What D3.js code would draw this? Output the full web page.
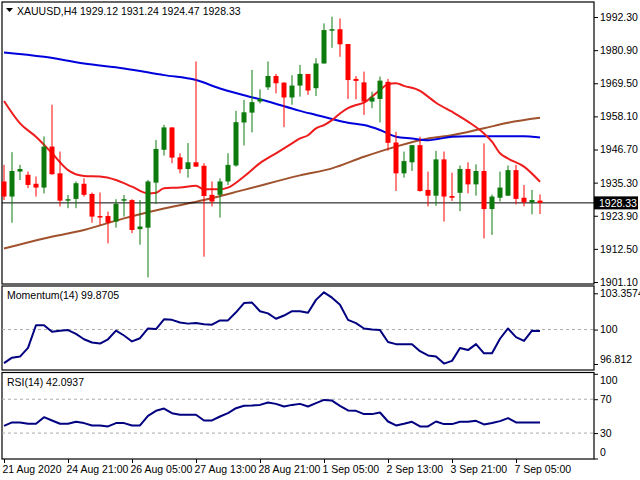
<!DOCTYPE html>
<html><head><meta charset="utf-8">
<script src="https://cdn.jsdelivr.net/npm/d3@7"></script>
<style>body{margin:0;background:#fff}svg{display:block;font-family:"Liberation Sans",sans-serif}</style>
</head><body><svg id="c" width="640" height="480"></svg>
<script>
const opens=[1935.7,1930.5,1939.1,1938.0,1934.9,1933.6,1947.7,1938.5,1929.3,1929.7,1934.9,1931.4,1923.8,1923.8,1921.9,1929.3,1929.3,1919.3,1919.8,1935.3,1946.6,1954.3,1944.0,1940.0,1942.3,1941.1,1931.1,1931.1,1935.7,1941.2,1956.0,1959.4,1963.2,1968.1,1972.0,1969.7,1964.6,1968.7,1972.7,1967.8,1976.3,1987.8,1988.1,1983.0,1971.0,1969.8,1963.2,1964.1,1970.0,1949.1,1938.5,1942.3,1948.2,1932.8,1930.8,1943.3,1930.7,1931.8,1940.0,1934.7,1939.3,1926.2,1930.1,1930.8,1939.6,1930.1,1928.5,1929.12];
const highs=[1941.4,1945.8,1941.4,1939.1,1937.4,1951.2,1962.1,1946.0,1931.1,1935.7,1936.8,1931.9,1931.9,1925.3,1929.6,1931.1,1929.6,1929.3,1936.2,1950.0,1955.2,1954.3,1945.4,1948.9,1977.0,1942.0,1935.7,1936.8,1945.4,1960.0,1963.8,1974.1,1967.4,1977.0,1972.7,1969.9,1972.3,1975.8,1972.7,1978.1,1990.1,1992.4,1991.8,1983.0,1972.0,1973.5,1966.6,1971.8,1971.0,1952.8,1946.0,1948.2,1951.1,1939.1,1946.2,1946.0,1938.7,1941.2,1942.3,1941.6,1948.8,1931.2,1939.1,1941.2,1941.4,1934.5,1932.8,1931.24];
const lows=[1929.3,1921.5,1936.2,1933.4,1930.5,1931.6,1938.0,1927.1,1926.5,1926.5,1930.5,1921.5,1920.7,1914.4,1919.8,1923.6,1917.9,1913.9,1902.7,1928.0,1944.6,1942.0,1938.5,1937.0,1940.8,1909.8,1927.1,1923.3,1934.5,1940.8,1948.1,1952.6,1962.6,1967.2,1966.0,1954.4,1962.1,1964.9,1965.5,1965.1,1976.3,1981.7,1978.6,1964.1,1964.0,1958.6,1960.9,1956.0,1946.3,1932.4,1937.0,1939.3,1932.2,1927.1,1927.3,1921.9,1929.0,1925.5,1931.6,1930.8,1916.1,1917.3,1928.8,1930.7,1927.8,1927.1,1924.4,1924.47];
const closes=[1930.5,1939.3,1940.0,1934.5,1933.6,1947.7,1938.2,1929.1,1929.6,1935.1,1931.1,1923.6,1923.3,1921.5,1928.0,1929.6,1919.0,1920.2,1935.7,1946.9,1954.3,1943.9,1939.9,1942.3,1940.8,1930.7,1928.8,1935.7,1941.4,1956.1,1959.5,1963.0,1964.1,1972.0,1969.5,1964.6,1968.7,1972.7,1967.0,1976.3,1987.8,1988.1,1982.9,1970.6,1970.3,1963.2,1964.6,1970.4,1949.0,1938.5,1942.7,1948.2,1932.4,1930.8,1943.3,1930.5,1930.1,1940.0,1934.7,1939.3,1926.2,1930.5,1933.6,1939.6,1929.7,1928.5,1929.3,1928.33];
const maFastIdx=[0,2,4,6,8,10,12,14,16,18,19,20,22,24,25,27,28,30,32,34,36,37,38,39,40,41,42,43,44,45,46,47,48,49,50,52,53,54,56,58,60,61,62,63,65,67];
const maFast=[1963.4,1955.7,1951.1,1945.4,1939.6,1937.6,1937.4,1936.2,1933.9,1931.6,1931.8,1933.4,1933.6,1934.2,1933.0,1933.0,1933.6,1937.4,1942.0,1945.4,1948.8,1950.5,1951.6,1954.0,1955.1,1956.8,1959.1,1960.9,1962.0,1962.8,1964.9,1967.2,1969.2,1969.5,1968.6,1966.9,1964.9,1962.8,1959.7,1956.3,1952.2,1949.4,1945.4,1943.6,1940.8,1935.6];
const maMidIdx=[0,5,10,15,20,24,27,30,33,37,39,41,43,45,47,49,51,53,54,56,58,60,62,65,66,67];
const maMid=[1980.1,1978.6,1976.3,1974.6,1972.3,1970.6,1967.7,1965.4,1963.2,1960.0,1958.6,1957.2,1955.9,1955.1,1953.4,1951.1,1950.5,1949.9,1950.2,1951.1,1951.3,1951.3,1951.3,1951.3,1951.1,1950.8];
const maSlowIdx=[0,5,10,15,20,25,30,37,41,45,49,53,56,60,63,67];
const maSlow=[1912.6,1916.1,1919.0,1923.0,1926.4,1929.3,1932.8,1937.8,1940.2,1944.2,1947.7,1950.5,1951.6,1954.0,1955.9,1957.6];
const momentum=[96.9,97.4,97.5,98.3,100.4,100.4,99.8,99.9,99.95,99.6,99.1,98.8,98.7,99.1,99.9,99.45,98.9,99.2,100.1,100.05,100.95,100.9,100.65,100.55,100.6,100.5,100.45,100.85,100.85,101.6,102.45,102.5,101.7,101.5,101.0,101.3,101.7,101.7,101.55,102.75,103.45,102.95,102.3,100.9,100.6,100.1,100.0,99.95,98.85,98.65,98.65,98.65,98.0,97.6,97.5,96.85,97.1,98.3,98.1,98.65,97.8,97.8,99.15,100.1,99.3,98.95,99.9,99.87];
const rsi=[38.6,42.6,42.6,41.0,41.0,48.8,44.9,41.0,41.0,43.3,41.8,39.0,39.0,37.9,41.8,41.8,39.0,39.0,50.4,56.3,59.0,53.5,51.6,51.6,51.6,44.9,44.9,49.6,53.5,59.4,62.2,62.6,63.3,66.1,64.5,61.4,63.3,64.5,61.4,65.3,69.2,68.4,62.2,56.7,56.3,52.4,52.4,54.3,43.7,39.0,41.0,43.3,37.9,37.9,43.7,40.6,40.6,43.3,43.3,44.5,40.2,41.8,44.1,47.7,42.6,42.6,42.6,42.6];
const priceTicks=[1992.30,1980.90,1969.50,1958.10,1946.70,1935.30,1923.90,1912.50,1901.10];
const momTicks=[103.3574,100,96.812];
const rsiTicks=[100,70,30,0];
const dateIdx=[0,8,16,24,32,40,48,56,64];
const dateLabels=["21 Aug 2020","24 Aug 21:00","26 Aug 05:00","27 Aug 13:00","28 Aug 21:00","1 Sep 05:00","2 Sep 13:00","3 Sep 21:00","7 Sep 05:00"];
const lastPrice=1928.33;
const title="XAUUSD,H4  1929.12 1931.24 1924.47 1928.33";

const svg=d3.select("#c");
const L=2,R=594;
const x=d3.scaleLinear().domain([0,67]).range([4,540]);
const y=d3.scaleLinear().domain([1901.1,1992.3]).range([282,17]);
const ym=d3.scaleLinear().domain([96.812,103.3574]).range([364,293.3]);
const yr=d3.scaleLinear().domain([0,100]).range([458.5,373.8]);
const panels=[[2,284],[286,370],[372.5,459]];
panels.forEach(p=>svg.append("rect").attr("x",L).attr("y",p[0]).attr("width",R-L).attr("height",p[1]-p[0]).attr("fill","none").attr("stroke","#000").attr("stroke-width",1.2));

const fs="10.5px";
function rAxis(scale,ticks,fmt,cls){
  const g=svg.append("g").attr("transform",`translate(${R},0)`).call(d3.axisRight(scale).tickValues(ticks).tickFormat(fmt).tickSize(4).tickPadding(2));
  g.select(".domain").remove();
  g.selectAll("text").attr("font-size",fs).attr("font-family","Liberation Sans").attr("fill","#000");
  return g;
}
rAxis(y,priceTicks,d3.format(".2f"));
const mg=rAxis(ym,momTicks,d=>String(d));
mg.selectAll("text").filter(d=>d===96.812).attr("dy","-0.1em");
const rg=rAxis(yr,rsiTicks,d3.format("d"));
rg.selectAll("text").filter(d=>d===100).attr("dy","0.9em");
rg.selectAll("text").filter(d=>d===0).attr("dy","-0.3em");
const xa=svg.append("g").attr("transform","translate(0,459)").call(d3.axisBottom(x).tickValues(dateIdx).tickFormat((d,i)=>dateLabels[i]).tickSize(4).tickPadding(3));
xa.select(".domain").remove();
xa.selectAll("text").attr("text-anchor","start").attr("dx","-2").attr("font-size",fs).attr("font-family","Liberation Sans").attr("fill","#000");

const dash=(yy)=>svg.append("line").attr("x1",L).attr("x2",R).attr("y1",yy).attr("y2",yy).attr("stroke","#aaa").attr("stroke-dasharray","3,3");
dash(ym(100));dash(yr(70));dash(yr(30));

const line=(idx,vals,sc,col,w)=>svg.append("path").datum(vals.map((v,i)=>[idx?idx[i]:i,v])).attr("fill","none").attr("stroke",col).attr("stroke-width",w).attr("stroke-linejoin","round")
  .attr("d",d3.line().x(d=>x(d[0])).y(d=>sc(d[1])).curve(idx?d3.curveMonotoneX:d3.curveLinear));
line(maSlowIdx,maSlow,y,"#a0522d",2);
line(maMidIdx,maMid,y,"#0000dd",2);
line(maFastIdx,maFast,y,"#ee1c1c",2);

svg.append("line").attr("x1",L).attr("x2",R).attr("y1",y(lastPrice)).attr("y2",y(lastPrice)).attr("stroke","#000").attr("stroke-width",1);

const cd=opens.map((o,i)=>({i,o,h:highs[i],l:lows[i],c:closes[i]}));
const col=d=>d.c>=d.o?"#0c7a0c":"#ff0000";
const g=svg.append("g");
g.selectAll("line.w").data(cd).join("line").attr("x1",d=>x(d.i)).attr("x2",d=>x(d.i)).attr("y1",d=>y(d.h)).attr("y2",d=>y(d.l)).attr("stroke",col).attr("stroke-width",1);
g.selectAll("rect").data(cd).join("rect").attr("x",d=>x(d.i)-2.5).attr("width",5)
  .attr("y",d=>y(Math.max(d.o,d.c))).attr("height",d=>Math.max(1.5,Math.abs(y(d.o)-y(d.c)))).attr("fill",col);

svg.append("rect").attr("x",R).attr("y",y(lastPrice)-6.5).attr("width",44).attr("height",13).attr("fill","#000");
svg.append("text").attr("x",R+5).attr("y",y(lastPrice)+4).attr("fill","#fff").attr("font-size",fs).text(d3.format(".2f")(lastPrice));

line(null,momentum,ym,"#000080",2);
line(null,rsi,yr,"#000080",2);

svg.append("path").attr("d","M6,8 L13,8 L9.5,12 Z").attr("fill","#000");
svg.append("text").attr("x",17).attr("y",15).attr("font-size",fs).text(title);
svg.append("text").attr("x",7).attr("y",299).attr("font-size",fs).text("Momentum(14) 99.8705");
svg.append("text").attr("x",7).attr("y",386).attr("font-size",fs).text("RSI(14) 42.0937");
</script></body></html>
